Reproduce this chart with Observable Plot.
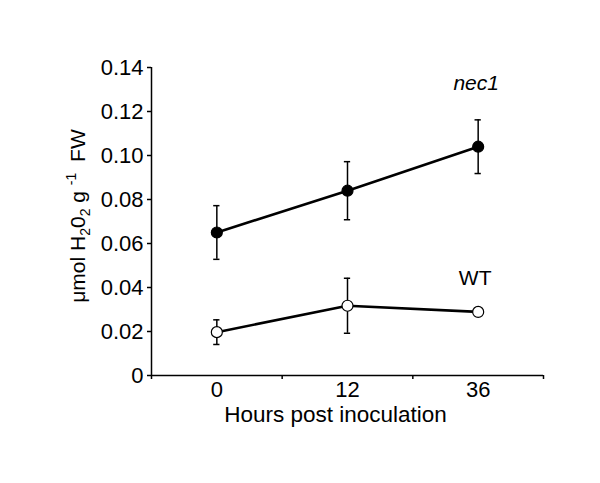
<!DOCTYPE html>
<html>
<head>
<meta charset="utf-8">
<script src="https://cdn.jsdelivr.net/npm/d3@7"></script>
<script src="https://cdn.jsdelivr.net/npm/@observablehq/plot@0.6"></script>
<style>
  html, body { margin: 0; padding: 0; background: #fff; }
  #chart svg { display: block; }
</style>
</head>
<body>
<div id="chart"></div>
<script>
const hours = ["0", "12", "36"];
const nec1Mean = [0.065, 0.084, 0.104];
const nec1Err = [0.0122, 0.0132, 0.0122];
const wtMean = [0.0197, 0.0317, 0.0289];
const wtErr = [0.0056, 0.0125, 0.0016];
const yTicks = [0, 0.02, 0.04, 0.06, 0.08, 0.10, 0.12, 0.14];
const seriesLabels = ["nec1", "WT"];

const rows = [];
hours.forEach((h, i) => {
  rows.push({series: "nec1", i, mean: nec1Mean[i], err: nec1Err[i]});
  rows.push({series: "WT", i, mean: wtMean[i], err: wtErr[i]});
});
const cap = 0.024;
const font = "'Liberation Sans', Arial, Helvetica, sans-serif";

const plot = Plot.plot({
  width: 600,
  height: 483,
  marginLeft: 151,
  marginRight: 57,
  marginTop: 67,
  marginBottom: 108,
  style: {fontFamily: font, fontSize: "22px", background: "#fff", color: "#000"},
  x: {type: "linear", domain: [-0.5, 2.5]},
  y: {domain: [0, 0.14]},
  marks: [
    Plot.axisY({ticks: yTicks, tickFormat: d => d === 0 ? "0" : d.toFixed(2), tickSize: 4, tickPadding: 4, label: null, fontSize: 22, strokeWidth: 1.5}),
    Plot.axisX({ticks: [-0.5, 0.5, 1.5, 2.5], tickFormat: () => "", tickSize: 4, label: null, strokeWidth: 1.5}),
    Plot.axisX({ticks: [0, 1, 2], tickFormat: i => hours[i], tickSize: 0, tickPadding: 6, label: null, fontSize: 22}),
    Plot.ruleX([-0.5], {strokeWidth: 1.5}),
    Plot.ruleY([0], {strokeWidth: 1.5}),
    Plot.ruleX(rows, {x: "i", y1: d => d.mean - d.err, y2: d => d.mean + d.err, strokeWidth: 1.5}),
    Plot.ruleY(rows, {x1: d => d.i - cap, x2: d => d.i + cap, y: d => d.mean + d.err, strokeWidth: 1.5}),
    Plot.ruleY(rows, {x1: d => d.i - cap, x2: d => d.i + cap, y: d => d.mean - d.err, strokeWidth: 1.5}),
    Plot.line(rows, {x: "i", y: "mean", z: "series", stroke: "#000", strokeWidth: 2.6}),
    Plot.dot(rows, {x: "i", y: "mean", r: 5.5, fill: d => d.series === "nec1" ? "#000" : "#fff", stroke: "#000", strokeWidth: 1.2}),
    Plot.text([seriesLabels[0]], {x: 2, y: 0.14, dx: -2, dy: 22, text: d => d, fontSize: 21, fontStyle: "italic", lineAnchor: "bottom", textAnchor: "middle"}),
    Plot.text([seriesLabels[1]], {x: 2, y: 0.04, dx: -3, dy: -3, text: d => d, fontSize: 21, lineAnchor: "bottom", textAnchor: "middle"}),
    Plot.text(["Hours post inoculation"], {frameAnchor: "bottom", dx: -12, dy: 46, text: d => d, fontSize: 22.5, lineAnchor: "bottom", textAnchor: "middle"})
  ]
});

document.getElementById("chart").appendChild(plot);

// y-axis title with sub/superscripts
const svg = d3.select(plot);
const t = svg.append("text")
  .attr("transform", "translate(85,216) rotate(-90)")
  .attr("text-anchor", "middle")
  .attr("font-family", font)
  .attr("font-size", 21)
  .attr("fill", "#000");
t.append("tspan").text("\u03bcmol H");
t.append("tspan").attr("font-size", 14).attr("dy", 5).text("2");
t.append("tspan").attr("dy", -5).text("0");
t.append("tspan").attr("font-size", 14).attr("dy", 5).text("2");
t.append("tspan").attr("dy", -5).text(" g ");
t.append("tspan").attr("font-size", 14).attr("dy", -9).text("-1");
t.append("tspan").attr("dy", 9).attr("dx", 5).text(" FW");
</script>
</body>
</html>
